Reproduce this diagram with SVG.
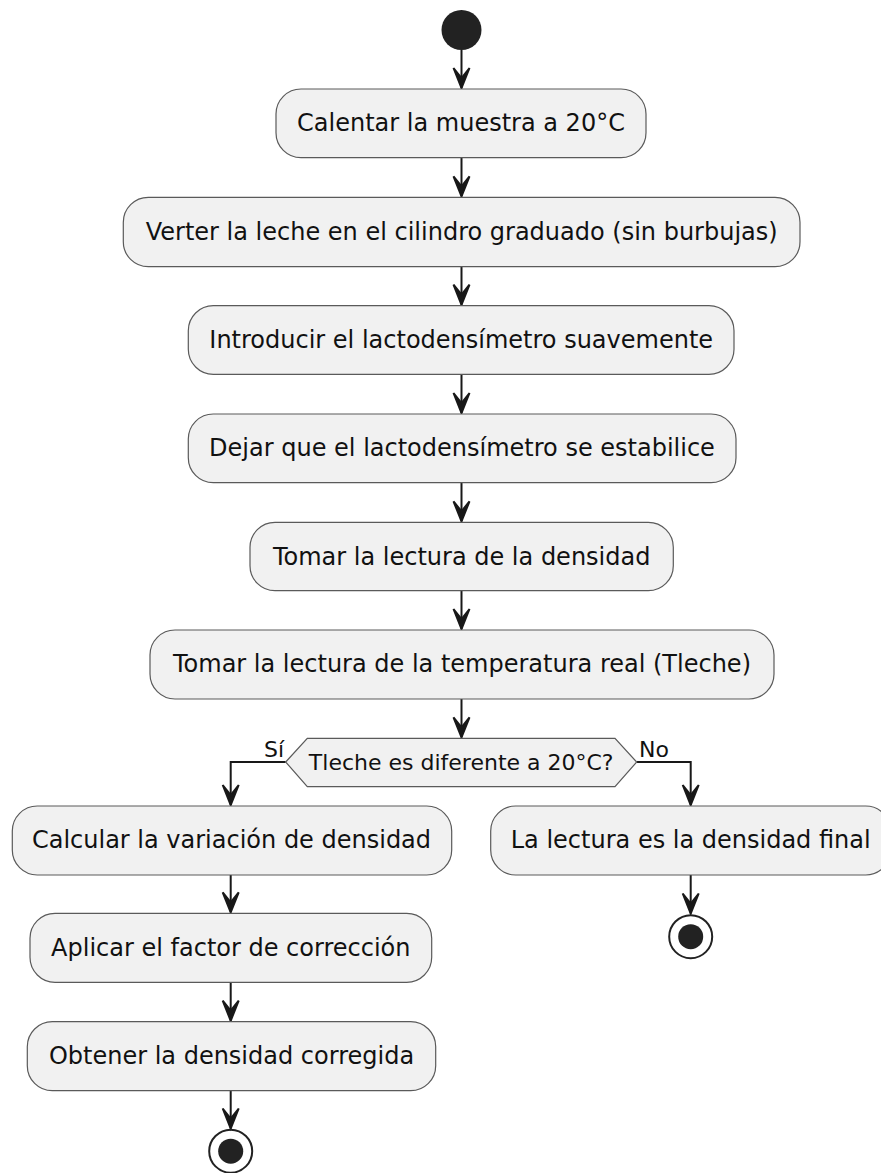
<svg xmlns="http://www.w3.org/2000/svg" width="881" height="1173" viewBox="0 0 881 1173">
<defs>
<style>
.box{fill:#F1F1F1;stroke:#5a5a5a;stroke-width:1.2}
.t{font-family:"DejaVu Sans","Liberation Sans",sans-serif;font-size:24px;fill:#111;text-anchor:middle}
.dt{font-family:"DejaVu Sans","Liberation Sans",sans-serif;font-size:22px;fill:#111;text-anchor:middle}
.lbl{font-family:"DejaVu Sans","Liberation Sans",sans-serif;font-size:22px;fill:#111}
.ln{fill:none;stroke:#181818;stroke-width:2}
.start{fill:#222222}
.endo{fill:none;stroke:#222222;stroke-width:2}
.endi{fill:#222222}
</style>
<marker id="ah" markerUnits="userSpaceOnUse" markerWidth="20" markerHeight="24" viewBox="-10 -22 20 24" refX="0" refY="0" orient="auto-start-reverse" overflow="visible">
<polygon points="-8,-20 0,0 8,-20 0,-10" fill="#181818" stroke="#181818" stroke-width="2" stroke-linejoin="miter" transform="rotate(-90)"/>
</marker>
</defs>
<rect width="881" height="1173" fill="#FFFFFF"/>

<g id="connectors">
<path class="ln" d="M461.5,50 V88" marker-end="url(#ah)"/>
<path class="ln" d="M461.5,157.7 V196.3" marker-end="url(#ah)"/>
<path class="ln" d="M461.5,266.7 V304.7" marker-end="url(#ah)"/>
<path class="ln" d="M461.5,374.3 V413" marker-end="url(#ah)"/>
<path class="ln" d="M461.5,482.7 V521.3" marker-end="url(#ah)"/>
<path class="ln" d="M461.5,590.7 V629" marker-end="url(#ah)"/>
<path class="ln" d="M461.5,699 V737.3" marker-end="url(#ah)"/>
<path class="ln" d="M285.7,762 H230.7 V805" marker-end="url(#ah)"/>
<path class="ln" d="M636.7,762 H690.7 V805" marker-end="url(#ah)"/>
<path class="ln" d="M230.7,875 V912.3" marker-end="url(#ah)"/>
<path class="ln" d="M230.7,982.3 V1020.7" marker-end="url(#ah)"/>
<path class="ln" d="M230.7,1090.7 V1128.5" marker-end="url(#ah)"/>
<path class="ln" d="M690.7,875 V913.5" marker-end="url(#ah)"/>
</g>

<g id="start">
<circle class="start" cx="461.5" cy="30" r="20"/>
</g>

<g id="n1">
<rect class="box" x="276" y="89" width="370" height="68.7" rx="25" ry="25"/>
<text class="t" x="461" y="131.3">Calentar la muestra a 20°C</text>
</g>
<g id="n2">
<rect class="box" x="123.3" y="197.3" width="676.7" height="69.4" rx="25" ry="25"/>
<text class="t" x="461.7" y="239.6">Verter la leche en el cilindro graduado (sin burbujas)</text>
</g>
<g id="n3">
<rect class="box" x="188.3" y="305.7" width="545.7" height="68.6" rx="25" ry="25"/>
<text class="t" x="461.2" y="348">Introducir el lactodensímetro suavemente</text>
</g>
<g id="n4">
<rect class="box" x="188.3" y="414" width="547.7" height="68.7" rx="25" ry="25"/>
<text class="t" x="462" y="456.3">Dejar que el lactodensímetro se estabilice</text>
</g>
<g id="n5">
<rect class="box" x="250" y="522.3" width="423.3" height="68.4" rx="25" ry="25"/>
<text class="t" x="461.7" y="564.6">Tomar la lectura de la densidad</text>
</g>
<g id="n6">
<rect class="box" x="150" y="630" width="624" height="69" rx="25" ry="25"/>
<text class="t" x="462" y="672.3">Tomar la lectura de la temperatura real (Tleche)</text>
</g>
<g id="decision">
<polygon class="box" points="285.7,762 307.3,738.3 615,738.3 636.7,762 615,786.7 307.3,786.7"/>
<text class="dt" x="461.2" y="769.5">Tleche es diferente a 20°C?</text>
<text class="lbl" x="284" y="757" text-anchor="end">Sí</text>
<text class="lbl" x="639" y="757">No</text>
</g>
<g id="n7">
<rect class="box" x="12.3" y="806" width="439.4" height="69" rx="25" ry="25"/>
<text class="t" x="231.5" y="848.3">Calcular la variación de densidad</text>
</g>
<g id="n8">
<rect class="box" x="490.7" y="806" width="400" height="69" rx="25" ry="25"/>
<text class="t" x="690.7" y="848.3">La lectura es la densidad final</text>
</g>
<g id="end2">
<circle class="endo" cx="690.7" cy="936.7" r="21.5"/>
<circle class="endi" cx="690.7" cy="936.7" r="12.5"/>
</g>
<g id="n9">
<rect class="box" x="30" y="913.3" width="401.7" height="69" rx="25" ry="25"/>
<text class="t" x="230.8" y="955.6">Aplicar el factor de corrección</text>
</g>
<g id="n10">
<rect class="box" x="27.3" y="1021.7" width="408.4" height="69" rx="25" ry="25"/>
<text class="t" x="231.5" y="1064">Obtener la densidad corregida</text>
</g>
<g id="end1">
<circle class="endo" cx="230.7" cy="1151.2" r="21.5"/>
<circle class="endi" cx="230.7" cy="1151.2" r="12.5"/>
</g>
</svg>
